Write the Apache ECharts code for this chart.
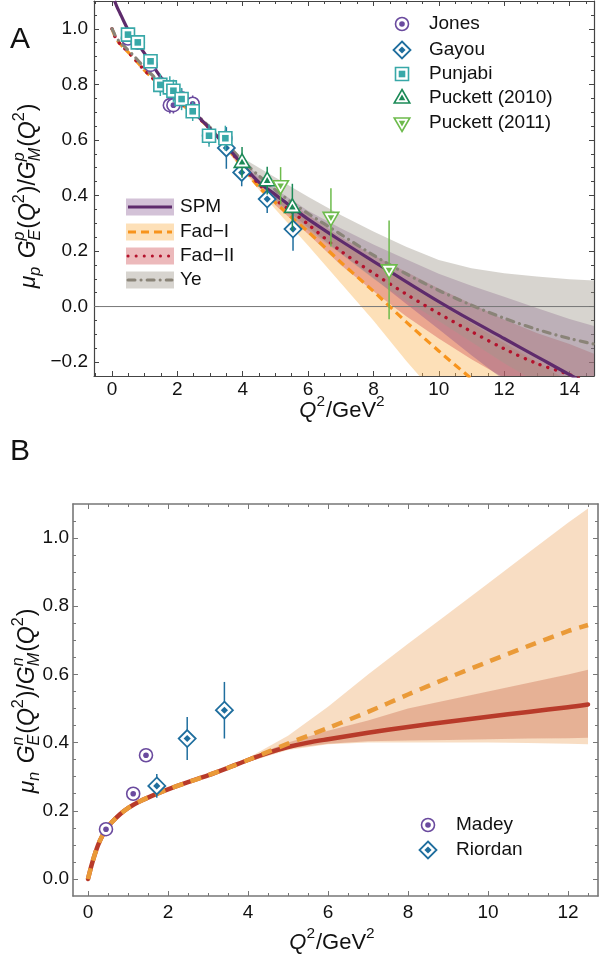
<!DOCTYPE html>
<html><head><meta charset="utf-8">
<script src="https://cdn.jsdelivr.net/npm/echarts@6/dist/echarts.min.js"></script>
<style>html,body{margin:0;padding:0;background:#fff}#c{width:612px;height:967px}</style>
</head><body><div id="c"></div><script>
// ================= Panel A data =================
// experimental points: [Q2, ratio, error]
const jonesA    = [[0.49,0.965,0.02],[0.79,0.95,0.015],[1.18,0.87,0.015],[1.48,0.80,0.03],[1.77,0.725,0.03],[1.88,0.725,0.03],[2.13,0.75,0.035],[2.47,0.73,0.03],[2.97,0.615,0.03],[3.47,0.605,0.03]];
const gayouA    = [[3.50,0.571,0.075],[3.97,0.483,0.05],[4.75,0.387,0.05],[5.54,0.279,0.078]];
const punjabiA  = [[0.49,0.979,0.02],[0.79,0.951,0.015],[1.18,0.883,0.02],[1.48,0.798,0.04],[1.77,0.789,0.04],[1.88,0.777,0.04],[2.13,0.747,0.04],[2.47,0.703,0.035],[2.97,0.615,0.04],[3.47,0.606,0.045]];
const puck10A   = [[3.98,0.519,0.055],[4.75,0.453,0.05],[5.52,0.357,0.085]];
const puck11A   = [[5.16,0.435,0.067],[6.70,0.321,0.105],[8.48,0.132,0.178]];

// model curves
const spmX  = [0.08,0.15,0.25,0.35,0.5,0.8,1.18,1.5,2.0,2.5,3.0,3.5,4.0,4.5,5.0,5.5,6,7,8,9,10,11,12,13,14,14.75];
const spmY  = [1.10,1.08,1.055,1.03,0.995,0.945,0.88,0.825,0.755,0.70,0.64,0.578,0.51,0.447,0.403,0.358,0.315,0.237,0.163,0.09,0.018,-0.05,-0.115,-0.18,-0.245,-0.29];
const fadX  = [0,0.05,0.1,0.2,0.35,0.65,0.96,1.26,1.6,2.0,2.5,3.0,3.5,4.0,4.5,5,5.5,6,7,8,9,10,11,12,13,14,14.75];
const fad1Y = [1.0,0.985,0.97,0.952,0.933,0.897,0.855,0.82,0.78,0.74,0.695,0.64,0.576,0.50,0.43,0.375,0.32,0.27,0.16,0.055,-0.055,-0.16,-0.26,-0.36,-0.46,-0.56,-0.64];
const fad2Y = [1.0,0.985,0.97,0.952,0.933,0.897,0.855,0.82,0.78,0.74,0.695,0.64,0.577,0.505,0.44,0.385,0.342,0.296,0.2,0.12,0.045,-0.025,-0.09,-0.152,-0.205,-0.245,-0.28];
const yeY   = [1.0,0.988,0.975,0.958,0.94,0.905,0.865,0.83,0.79,0.748,0.70,0.645,0.585,0.525,0.47,0.42,0.375,0.335,0.26,0.185,0.118,0.058,0.005,-0.042,-0.082,-0.115,-0.135];

// uncertainty bands
const bandAX   = [3,4,5,6,7,8,9,10,11,12,13,14,14.75];
const yeHi     = [0.648,0.535,0.465,0.395,0.33,0.27,0.215,0.168,0.138,0.12,0.108,0.098,0.094];
const yeLo     = [0.642,0.515,0.375,0.275,0.19,0.10,0.021,-0.052,-0.128,-0.204,-0.272,-0.328,-0.364];
const spmHi    = [0.643,0.52,0.423,0.345,0.282,0.223,0.17,0.118,0.075,0.035,-0.005,-0.045,-0.07];
const spmLo    = [0.637,0.50,0.383,0.285,0.192,0.103,0.01,-0.082,-0.175,-0.265,-0.355,-0.445,-0.51];
const fad2Hi   = [0.643,0.515,0.405,0.331,0.25,0.185,0.125,0.065,0.01,-0.047,-0.095,-0.135,-0.17];
const fad2Lo   = [0.637,0.495,0.365,0.261,0.15,0.055,-0.035,-0.115,-0.19,-0.257,-0.315,-0.355,-0.39];
const fad1Hi   = [0.643,0.51,0.40,0.32,0.235,0.16,0.085,0.01,-0.06,-0.13,-0.20,-0.27,-0.33];
const fad1Lo   = [0.637,0.49,0.35,0.22,0.085,-0.05,-0.195,-0.33,-0.46,-0.59,-0.72,-0.85,-0.95];

// ================= Panel B data =================
const madeyB   = [[0.45,0.146,0],[1.13,0.25,0],[1.45,0.363,0]];
const riordanB = [[1.72,0.273,0.035],[2.48,0.412,0.063],[3.41,0.495,0.083]];
const bX       = [0,0.1,0.2,0.3,0.45,0.6,0.8,1.0,1.3,1.7,2.0,2.5,3.0,3.5,4.0,4.5,5,5.5,6,7,8,9,10,11,12,12.5];
const bSolidY  = [0,0.045,0.083,0.113,0.145,0.167,0.19,0.208,0.228,0.249,0.263,0.284,0.304,0.326,0.349,0.37,0.387,0.4,0.41,0.429,0.446,0.461,0.476,0.49,0.504,0.512];
const bDashY   = [0,0.045,0.083,0.113,0.145,0.167,0.19,0.208,0.228,0.249,0.263,0.284,0.304,0.326,0.349,0.373,0.397,0.42,0.443,0.49,0.541,0.59,0.637,0.683,0.727,0.745];
const bandBX   = [3.5,4,5,6,7,8,9,10,11,12,12.5];
const bOrHi    = [0.328,0.355,0.42,0.505,0.60,0.69,0.778,0.867,0.956,1.045,1.087];
const bOrLo    = [0.324,0.343,0.378,0.395,0.40,0.40,0.40,0.40,0.399,0.397,0.395];
const bRedHi   = [0.328,0.355,0.40,0.435,0.465,0.50,0.525,0.55,0.575,0.60,0.614];
const bRedLo   = [0.324,0.343,0.382,0.397,0.404,0.406,0.408,0.41,0.412,0.413,0.414];

// ================= ticks =================
const xMajA = [0,2,4,6,8,10,12,14];
const xMinA = [-0.5,0.5,1,1.5,2.5,3,3.5,4.5,5,5.5,6.5,7,7.5,8.5,9,9.5,10.5,11,11.5,12.5,13,13.5,14.5];
const yMajA = [-0.2,0,0.2,0.4,0.6,0.8,1.0];
const yMinA = [-0.15,-0.1,-0.05,0.05,0.1,0.15,0.25,0.3,0.35,0.45,0.5,0.55,0.65,0.7,0.75,0.85,0.9,0.95,1.05];
const xMajB = [0,2,4,6,8,10,12];
const xMinB = [0.5,1,1.5,2.5,3,3.5,4.5,5,5.5,6.5,7,7.5,8.5,9,9.5,10.5,11,11.5,12.5];
const yMajB = [0,0.2,0.4,0.6,0.8,1.0];
const yMinB = [0.05,0.1,0.15,0.25,0.3,0.35,0.45,0.5,0.55,0.65,0.7,0.75,0.85,0.9,0.95,1.05];

const FONT = '"Liberation Sans", Arial, sans-serif';
const C = {
  jones:'#6a4a9e', gayou:'#1f6e9e', punjabi:'#38a8a8', p10:'#1b8a57', p11:'#6dbb4c',
  spm:'#5e2b6c', fad1:'#f7941d', fad2:'#b4122c', ye:'#8a8478',
  spmBand:'rgba(120,70,135,0.33)', fad1Band:'rgba(250,180,85,0.42)', fad2Band:'rgba(205,70,75,0.38)', yeBand:'rgba(160,152,140,0.42)',
  bRed:'#b83a2a', bOr:'#ea9a38', bOrBand:'rgba(235,160,90,0.36)', bRedBand:'rgba(200,100,70,0.36)'
};

function markerEls(kind, cx, cy, color){
  const W = {fill:'#fff', stroke:color, lineWidth:1.6};
  const F = {fill:color};
  if (kind==='circle') return [
    {type:'circle', shape:{cx,cy,r:6.5}, style:W},
    {type:'circle', shape:{cx,cy,r:2.8}, style:F}];
  if (kind==='diamond') return [
    {type:'polygon', shape:{points:[[cx,cy-8.5],[cx+8.5,cy],[cx,cy+8.5],[cx-8.5,cy]]}, style:Object.assign({},W,{lineWidth:1.8})},
    {type:'polygon', shape:{points:[[cx,cy-3.6],[cx+3.6,cy],[cx,cy+3.6],[cx-3.6,cy]]}, style:F}];
  if (kind==='square') return [
    {type:'rect', shape:{x:cx-6.5,y:cy-6.5,width:13,height:13}, style:W},
    {type:'rect', shape:{x:cx-3.3,y:cy-3.3,width:6.6,height:6.6}, style:F}];
  if (kind==='up') return [
    {type:'polygon', shape:{points:[[cx,cy-8.5],[cx+7.8,cy+5],[cx-7.8,cy+5]]}, style:W},
    {type:'polygon', shape:{points:[[cx,cy-3.6],[cx+3.3,cy+2.2],[cx-3.3,cy+2.2]]}, style:F}];
  return [
    {type:'polygon', shape:{points:[[cx,cy+8.5],[cx+7.8,cy-5],[cx-7.8,cy-5]]}, style:W},
    {type:'polygon', shape:{points:[[cx,cy+3.6],[cx+3.3,cy-2.2],[cx-3.3,cy-2.2]]}, style:F}];
}

function pointSeries(data, kind, color, xi, yi, z){
  return {type:'custom', xAxisIndex:xi, yAxisIndex:yi, data, encode:{x:0,y:1}, z, silent:true, clip:false,
    renderItem:(params, api)=>{
      const x=api.value(0), y=api.value(1), e=api.value(2);
      const c=api.coord([x,y]);
      const children=[];
      if (e>0){
        const t=api.coord([x,y+e]), b=api.coord([x,y-e]);
        children.push({type:'line', shape:{x1:c[0],y1:t[1],x2:c[0],y2:b[1]}, style:{stroke:color,lineWidth:1.5}});
      }
      return {type:'group', children: children.concat(markerEls(kind,c[0],c[1],color))};
    }};
}
function bandSeries(xs, lo, hi, fill, xi, yi, z){
  return {type:'custom', xAxisIndex:xi, yAxisIndex:yi, data: xs.map((x,i)=>[x,lo[i],hi[i]]),
    encode:{x:0,y:[1,2]}, clip:true, z, silent:true,
    renderItem:(params, api)=>{
      if (params.dataIndex!==0) return null;
      const pts=[];
      for (let i=0;i<xs.length;i++) pts.push(api.coord([xs[i],hi[i]]));
      for (let i=xs.length-1;i>=0;i--) pts.push(api.coord([xs[i],lo[i]]));
      return {type:'polygon', shape:{points:pts}, style:{fill}};
    }};
}
function lineSeries(xs, ys, color, width, dash, cap, xi, yi, z){
  return {type:'line', xAxisIndex:xi, yAxisIndex:yi, data: xs.map((x,i)=>[x,ys[i]]), showSymbol:false, symbol:'none',
    smooth:0.3, clip:true, z, silent:true,
    lineStyle:{color, width, type: dash||'solid', cap: cap||'butt', join:'round'}};
}

const fmtX = v => String(v);
const fmtY = v => v.toFixed(1).replace('-', '\u2212');
function axesFor(isX, grid, min, max, majors, minors, color, lw, margin, fmt){
  const base = {type:'value', gridIndex:grid, min, max, splitLine:{show:false}};
  const posMain = isX ? 'bottom' : 'left', posOpp = isX ? 'top' : 'right';
  const mk = (pos, vals, len, line, label) => Object.assign({}, base, {
    position: pos,
    axisLine:{show:line, onZero:false, lineStyle:{color, width:lw}},
    axisTick:{show:true, inside:true, length:len, customValues:vals, lineStyle:{color, width:1}},
    axisLabel: label ? {show:true, customValues:vals, formatter:fmt, fontSize:19, fontFamily:FONT, color:'#111', margin} : {show:false}
  });
  return [mk(posMain, majors, 5, true, true), mk(posMain, minors, 3, false, false),
          mk(posOpp, majors, 5, true, false), mk(posOpp, minors, 3, false, false)];
}

// math-style text via measured tokens
const mctx = document.createElement('canvas').getContext('2d');
function mathGroup(tokens, size, cx, cy, rot){
  let x=0, prevX=0, prevW=0; const kids=[];
  tokens.forEach(tk=>{
    const p = tk.p||'base';
    const fs = p==='base' ? size : size*0.7;
    const font = (tk.i?'italic ':'') + fs.toFixed(1) + 'px "Liberation Sans"';
    mctx.font = font;
    const w = mctx.measureText(tk.t).width + (tk.pad||0);
    let tx;
    if (tk.s){ tx = prevX; x = prevX + Math.max(prevW, w); }
    else { tx = x; x += w; prevX = tx; prevW = w; }
    const dy = p==='sub' ? size*0.3 : (p==='sup' ? -size*0.4 : 0);
    kids.push({type:'text', x:tx, y:dy, style:{text:tk.t, font, fill:'#111', align:'left', verticalAlign:'middle', textAlign:'left', textVerticalAlign:'middle'}});
  });
  kids.forEach(k=>{ k.x -= x/2; });
  return {type:'group', x:cx, y:cy, rotation: rot ? Math.PI/2 : 0, children:kids, z:100};
}
function yTitle(q){
  return [{t:'\u03bc',i:1},{t:q,i:1,p:'sub',pad:2},{t:' '},{t:'G',i:1},{t:q,i:1,p:'sup'},{t:'E',i:1,p:'sub',s:1,pad:1},
    {t:'('},{t:'Q',i:1},{t:'2',p:'sup',pad:1},{t:')/'},{t:'G',i:1},{t:q,i:1,p:'sup'},{t:'M',i:1,p:'sub',s:1,pad:1},
    {t:'('},{t:'Q',i:1},{t:'2',p:'sup',pad:1},{t:')'}];
}
const xTitle = [{t:'Q',i:1},{t:'2',p:'sup',pad:1},{t:'/GeV'},{t:'2',p:'sup'}];

// legends
const legA1 = [['Jones','circle',C.jones],['Gayou','diamond',C.gayou],['Punjabi','square',C.punjabi],['Puckett (2010)','up',C.p10],['Puckett (2011)','down',C.p11]];
const legA1Y = [24,50,74,98,123];
const legA2 = [['SPM',C.spmBand,C.spm,null,'butt'],['Fad\u2212I',C.fad1Band,C.fad1,[8,5],'butt'],['Fad\u2212II',C.fad2Band,C.fad2,[0.1,8],'round'],['Ye',C.yeBand,C.ye,[7,6,0.1,6],'round']];
const legA2Y = [207,232,256,280];
const legB = [['Madey','circle',C.jones],['Riordan','diamond',C.gayou]];
const legBY = [825,850];

const graphics = [];
const txt = (s,x,y,size) => ({type:'text', x, y, z:100, style:{text:s, font:size+'px '+FONT, fill:'#111', align:'left', verticalAlign:'middle', textAlign:'left', textVerticalAlign:'middle'}});
legA1.forEach((l,i)=>{ graphics.push({type:'group', z:100, children: markerEls(l[1],402,legA1Y[i],l[2])}); graphics.push(txt(l[0],429,legA1Y[i],19)); });
legA2.forEach((l,i)=>{
  const y=legA2Y[i];
  graphics.push({type:'rect', z:100, shape:{x:126,y:y-8.5,width:48,height:17}, style:{fill:l[1]}});
  graphics.push({type:'line', z:101, shape:{x1:128,y1:y,x2:172,y2:y}, style:{stroke:l[2], lineWidth:3, lineDash:l[3]||null, lineCap:l[4]}});
  graphics.push(txt(l[0],180,y,19));
});
legB.forEach((l,i)=>{ graphics.push({type:'group', z:100, children: markerEls(l[1],428,legBY[i],l[2])}); graphics.push(txt(l[0],456,legBY[i],19)); });
graphics.push({type:'text', x:10, y:40, z:100, style:{text:'A', font:'30px '+FONT, fill:'#111', verticalAlign:'middle', textVerticalAlign:'middle'}});
graphics.push({type:'text', x:10, y:452, z:100, style:{text:'B', font:'30px '+FONT, fill:'#111', verticalAlign:'middle', textVerticalAlign:'middle'}});
graphics.push(mathGroup(yTitle('p'), 23, 29, 196, true));
graphics.push(mathGroup(yTitle('n'), 23, 28, 701, true));
graphics.push(mathGroup(xTitle, 22, 342, 411, false));
graphics.push(mathGroup(xTitle, 22, 332, 943, false));

const xAxes = [].concat(
  axesFor(true, 0, -0.55, 14.75, xMajA, xMinA, '#444', 1.2, 4, fmtX),
  axesFor(true, 1, -0.375, 12.75, xMajB, xMinB, '#777', 1.6, 7, fmtX));
const yAxes = [].concat(
  axesFor(false, 0, -0.25, 1.1, yMajA, yMinA, '#444', 1.2, 6, fmtY),
  axesFor(false, 1, -0.05, 1.1, yMajB, yMinB, '#777', 1.6, 4, fmtY));

const series = [
  // Panel A bands
  bandSeries(bandAX, fad1Lo, fad1Hi, C.fad1Band, 0, 0, 2),
  bandSeries(bandAX, fad2Lo, fad2Hi, C.fad2Band, 0, 0, 3),
  bandSeries(bandAX, spmLo, spmHi, C.spmBand, 0, 0, 4),
  bandSeries(bandAX, yeLo, yeHi, C.yeBand, 0, 0, 5),
  {type:'line', xAxisIndex:0, yAxisIndex:0, data:[[-0.55,0],[14.75,0]], showSymbol:false, symbol:'none', z:6, silent:true, lineStyle:{color:'#777', width:1}},
  lineSeries(fadX, fad1Y, C.fad1, 3.2, [8,5], 'butt', 0, 0, 7),
  lineSeries(fadX, fad2Y, C.fad2, 3.4, [0.1,8], 'round', 0, 0, 8),
  lineSeries(fadX, yeY, C.ye, 3.2, [7,6,0.1,6], 'round', 0, 0, 9),
  lineSeries(spmX, spmY, C.spm, 3.2, null, 'butt', 0, 0, 10),
  pointSeries(jonesA, 'circle', C.jones, 0, 0, 20),
  pointSeries(gayouA, 'diamond', C.gayou, 0, 0, 21),
  pointSeries(punjabiA, 'square', C.punjabi, 0, 0, 22),
  pointSeries(puck10A, 'up', C.p10, 0, 0, 23),
  pointSeries(puck11A, 'down', C.p11, 0, 0, 24),
  // Panel B
  bandSeries(bandBX, bOrLo, bOrHi, C.bOrBand, 4, 4, 2),
  bandSeries(bandBX, bRedLo, bRedHi, C.bRedBand, 4, 4, 3),
  lineSeries(bX, bSolidY, C.bRed, 4.5, null, 'round', 4, 4, 7),
  lineSeries(bX, bDashY, C.bOr, 4.5, [11,8], 'butt', 4, 4, 8),
  pointSeries(madeyB, 'circle', C.jones, 4, 4, 20),
  pointSeries(riordanB, 'diamond', C.gayou, 4, 4, 21)
];

const chart = echarts.init(document.getElementById('c'), null, {renderer:'canvas'});
chart.setOption({
  animation:false,
  backgroundColor:'#fff',
  grid:[{left:94, top:1, width:500, height:375}, {left:73, top:504, width:525, height:392}],
  xAxis: xAxes, yAxis: yAxes, series, graphic: graphics
});
</script></body></html>
